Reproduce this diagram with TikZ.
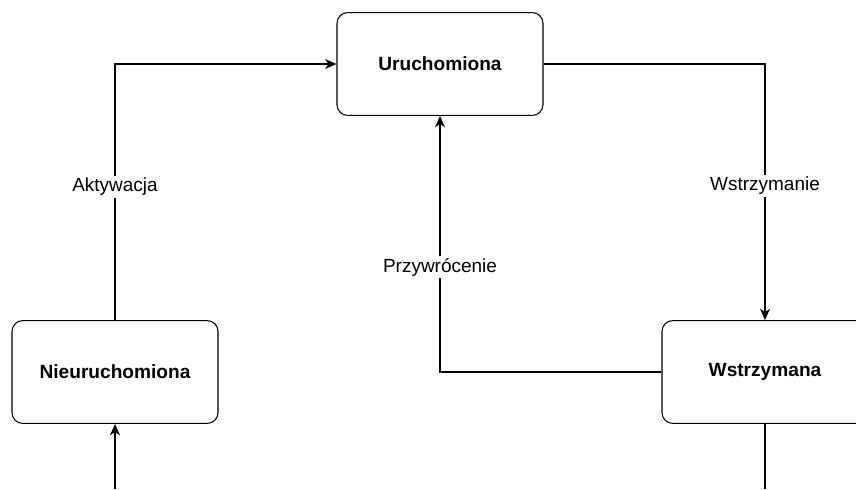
\documentclass[tikz,border=0pt]{standalone}
\usepackage{fontspec}
\setmainfont{Liberation Sans}
\usepackage{tikz}
\usetikzlibrary{positioning}
\usetikzlibrary{arrows.meta}

\begin{document}
\begin{tikzpicture}[line width=0.75pt, >={Stealth[length=8pt, width=7pt, inset=2.2pt]},
    state/.style={draw, rectangle, rounded corners=0.27cm, minimum width=5.15cm, minimum height=2.57cm, font=\fontsize{13.6}{15}\selectfont\bfseries},
    lbl/.style={fill=white, inner sep=1.5pt, font=\fontsize{13.5}{15}\selectfont}]
            \useasboundingbox (0,0) rectangle (21.4,-12.225);
            % States
            \node[state] (Ur) at (11.0,-1.6) {Uruchomiona};
            \node[state] (Nie) at (2.875,-9.3) {Nieuruchomiona};
            \node[state] (Wst) at (19.125,-9.3) {Wstrzymana};

            \coordinate (NieIn) at (2.875,-12.225);
            \coordinate (WstOut) at (19.125,-12.225);

            % Transitions
            \draw[->] (Nie.north) -- node[lbl, pos=0.52] {Aktywacja} (Nie.north |- Ur.west) -- (Ur.west);
            \draw[->] (Ur.east) -- (Ur.east -| Wst.north) -- node[lbl, pos=0.475] {Wstrzymanie} (Wst.north);
            \draw[->] (Wst.west) -- (Wst.west -| Ur.south) -- node[lbl, pos=0.41] {Przywrócenie} (Ur.south);
            \draw[->] (NieIn) -- (Nie.south);
            \draw (Wst.south) -- (WstOut);
        \end{tikzpicture}
\end{document}
